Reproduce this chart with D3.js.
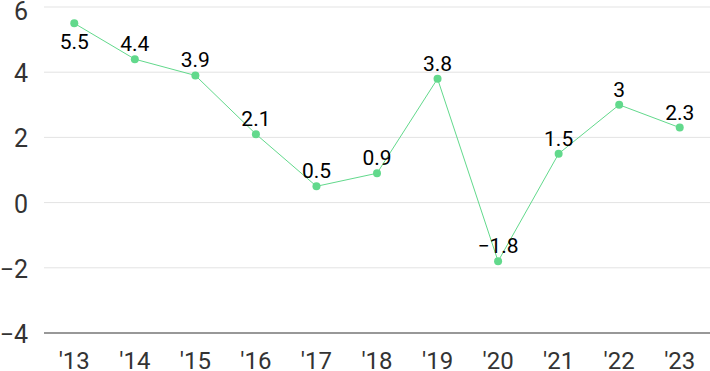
<!DOCTYPE html>
<html>
<head>
<meta charset="utf-8">
<script src="https://cdn.jsdelivr.net/npm/d3@7"></script>
<style>
  body { margin: 0; background: #fff; }
  text { font-family: Roboto, "Noto Sans", sans-serif; }
</style>
</head>
<body>
<div id="chart"></div>
<script>
// data
const years = ["'13", "'14", "'15", "'16", "'17", "'18", "'19", "'20", "'21", "'22", "'23"];
const values = [5.5, 4.4, 3.9, 2.1, 0.5, 0.9, 3.8, -1.8, 1.5, 3, 2.3];
const yTicks = [-4, -2, 0, 2, 4, 6];

const width = 710, height = 371;
const plotLeft = 44, plotRight = 710, plotTop = 7, plotBottom = 333;
const green = "#62d98c";

const svg = d3.select("#chart")
    .append("svg")
    .attr("width", width)
    .attr("height", height);

const x = d3.scaleBand()
    .domain(years)
    .range([plotLeft, plotRight]);

const y = d3.scaleLinear()
    .domain([-4, 6])
    .range([plotBottom, plotTop]);

// gridlines
svg.append("g")
    .selectAll("line")
    .data(yTicks.filter(d => d !== -4))
    .enter()
    .append("line")
    .attr("x1", plotLeft)
    .attr("x2", plotRight)
    .attr("y1", d => y(d))
    .attr("y2", d => y(d))
    .style("stroke", "#e3e3e3")
    .style("stroke-width", 1);

// baseline
svg.append("line")
    .attr("x1", plotLeft)
    .attr("x2", plotRight)
    .attr("y1", y(-4))
    .attr("y2", y(-4))
    .style("stroke", "#333")
    .style("stroke-width", 1.2);

// y labels, top one nudged down so it stays inside
svg.append("g")
    .selectAll("text")
    .data(yTicks)
    .enter()
    .append("text")
    .attr("x", 28)
    .attr("y", d => Math.max(y(d) + 10, 20))
    .attr("text-anchor", "end")
    .style("font-size", "25px")
    .style("fill", "#333")
    .text(d => d < 0 ? "\u2212" + Math.abs(d) : d);

// x labels
svg.append("g")
    .selectAll("text")
    .data(years)
    .enter()
    .append("text")
    .attr("x", d => x(d) + x.bandwidth() / 2)
    .attr("y", 369)
    .attr("text-anchor", "middle")
    .style("font-size", "24px")
    .style("fill", "#333")
    .text(d => d);

const pts = years.map((d, i) => ({ year: d, value: values[i] }));

// line
const line = d3.line()
    .x(d => x(d.year) + x.bandwidth() / 2)
    .y(d => y(d.value));

svg.append("path")
    .datum(pts)
    .attr("d", line)
    .style("fill", "none")
    .style("stroke", green)
    .style("stroke-width", 1);

// points
svg.append("g")
    .selectAll("circle")
    .data(pts)
    .enter()
    .append("circle")
    .attr("cx", d => x(d.year) + x.bandwidth() / 2)
    .attr("cy", d => y(d.value))
    .attr("r", 4)
    .style("fill", green);

// value labels (first one sits below its point)
svg.append("g")
    .selectAll("text")
    .data(pts)
    .enter()
    .append("text")
    .attr("x", d => x(d.year) + x.bandwidth() / 2)
    .attr("y", (d, i) => i === 0 ? y(d.value) + 26 : y(d.value) - 8)
    .attr("text-anchor", "middle")
    .style("font-size", "21px")
    .style("fill", "#000")
    .text(d => d.value < 0 ? "\u2212" + Math.abs(d.value) : d.value);
</script>
</body>
</html>
